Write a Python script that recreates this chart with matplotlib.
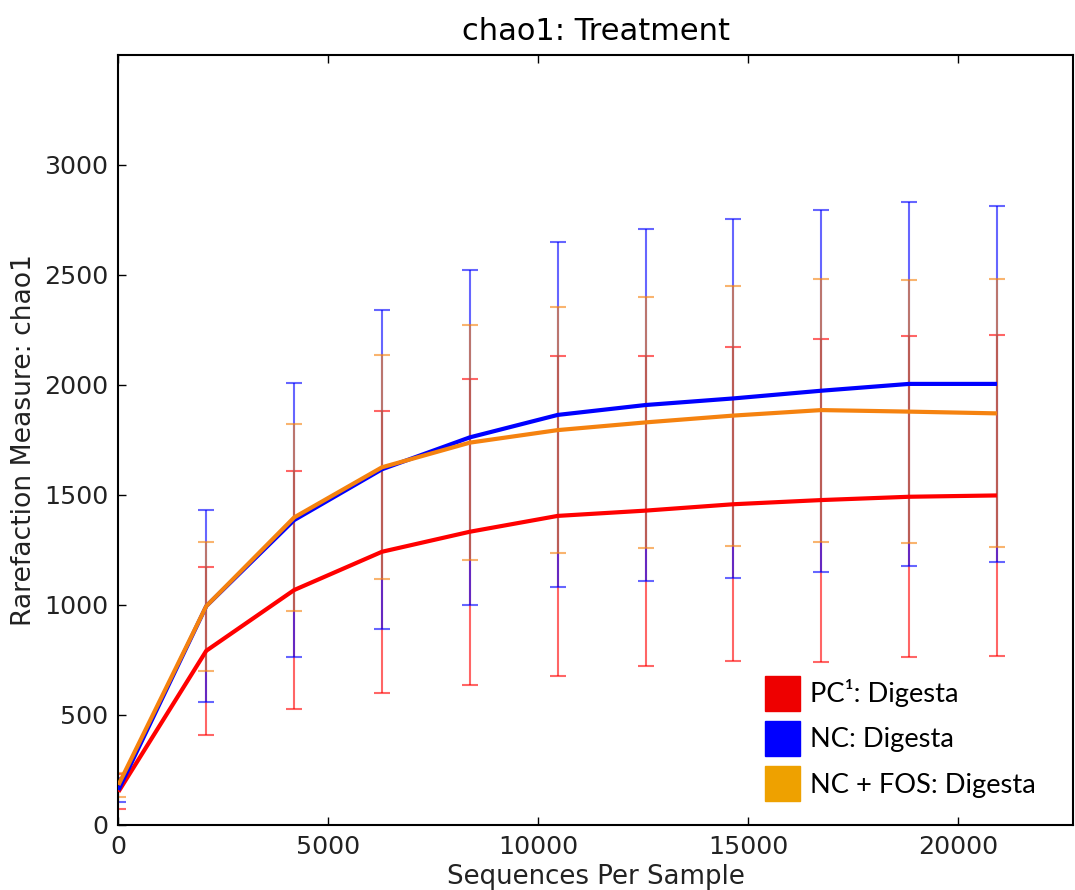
import matplotlib
matplotlib.use("Agg")
import matplotlib.pyplot as plt
from matplotlib.patches import Patch

# ---- data ----
seqs_per_sample = [10, 2102, 4194, 6286, 8378, 10470, 12562, 14654, 16746, 18838, 20930]

pc_mean = [151, 792, 1068, 1242, 1333, 1405, 1429, 1458, 1477, 1492, 1498]
pc_std = [80, 383, 539, 641, 695, 726, 705, 714, 734, 730, 731]

nc_mean = [159, 995, 1386, 1617, 1762, 1864, 1909, 1939, 1974, 2005, 2005]
nc_std = [55, 437, 621, 726, 760, 784, 798, 815, 822, 828, 808]

fos_mean = [182, 995, 1398, 1626, 1738, 1795, 1830, 1861, 1886, 1879, 1871]
fos_std = [53, 293, 424, 509, 535, 559, 570, 591, 598, 599, 609]

legend_labels = ["PC\u00b9: Digesta", "NC: Digesta", "NC + FOS: Digesta"]
xticks = [0, 5000, 10000, 15000, 20000]
yticks = [0, 500, 1000, 1500, 2000, 2500, 3000]

# ---- style ----
line_colors = ["#ff0000", "#0000ff", "#f5820f"]
legend_colors = ["#ee0000", "#0000ff", "#eea100"]

fig = plt.figure(figsize=(10.75, 8.9), dpi=100)
ax = fig.add_axes([118 / 1075, 65 / 890, (1073 - 118) / 1075, 770 / 890])

series = [(pc_mean, pc_std), (nc_mean, nc_std), (fos_mean, fos_std)]
for (m, s), c in zip(series, line_colors):
    ax.errorbar(seqs_per_sample, m, yerr=s, fmt="none", ecolor=c, alpha=0.6,
                elinewidth=1.5, capsize=6, capthick=1.5, zorder=2, clip_on=True)
for (m, s), c in zip(series, line_colors):
    ax.plot(seqs_per_sample, m, color=c, lw=3.0, zorder=3, solid_capstyle="butt")

ax.set_xlim(0, 22740)
ax.set_ylim(0, 3500)
ax.set_xticks(xticks)
ax.set_yticks(yticks)
ax.tick_params(direction="in", length=6, width=1.0, top=True, right=False,
               labelsize=18.2, pad=7, colors="black", labelcolor="#222222")
for sp in ax.spines.values():
    sp.set_linewidth(1.5)

ax.set_title("chao1: Treatment", fontsize=22, pad=11)
ax.set_xlabel("Sequences Per Sample", fontsize=18.7, labelpad=4, color="#222222")
ax.set_ylabel("Rarefaction Measure: chao1", fontsize=19.2, labelpad=5, color="#222222")

handles = [Patch(facecolor=c, edgecolor=c) for c in legend_colors]
leg = ax.legend(handles, legend_labels, loc="upper left",
                bbox_to_anchor=(765 / 1075, 1 - 676 / 890), bbox_transform=fig.transFigure,
                frameon=False, borderpad=0, borderaxespad=0,
                handlelength=1.29, handleheight=1.6, handletextpad=0.37,
                labelspacing=0.37, prop={"family": ["Lato", "DejaVu Sans"], "size": 19.6})

fig.savefig("out.png", dpi=100)
